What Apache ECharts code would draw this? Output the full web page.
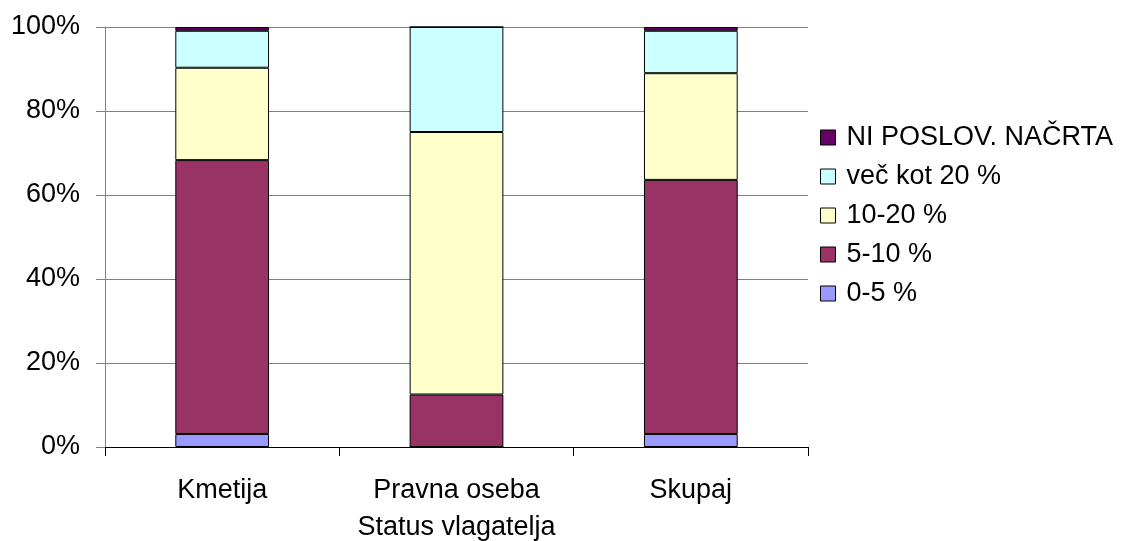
<!DOCTYPE html>
<html>
<head>
<meta charset="utf-8">
<script src="https://cdn.jsdelivr.net/npm/echarts@6/dist/echarts.min.js"></script>
<style>html,body{margin:0;padding:0;background:#fff}#c{width:1125px;height:541px}</style>
</head>
<body>
<div id="c"></div>
<script>
const categories = ['Kmetija', 'Pravna oseba', 'Skupaj'];
const yTicks = ['0%', '20%', '40%', '60%', '80%', '100%'];
const s0_5 = [3.1, 0, 3.1];
const s5_10 = [65.2, 12.5, 60.5];
const s10_20 = [22.0, 62.5, 25.4];
const sOver20 = [8.8, 25.0, 10.1];
const sNoPlan = [0.9, 0, 0.9];
const seriesNames = ['0-5 %', '5-10 %', '10-20 %', 'več kot 20 %', 'NI POSLOV. NAČRTA'];
const seriesData = [s0_5, s5_10, s10_20, sOver20, sNoPlan];
const colors = ['#9999FF', '#993366', '#FFFFCC', '#CCFFFF', '#660066'];

const chart = echarts.init(document.getElementById('c'));
const font = 'Arial, "Liberation Sans", sans-serif';
chart.setOption({
  animation: false,
  textStyle: { fontFamily: font },
  grid: { left: 105, top: 27, right: 317, bottom: 94, containLabel: false, outerBoundsMode: 'none' },
  legend: {
    orient: 'vertical',
    left: 815,
    top: 119,
    icon: 'rect',
    itemWidth: 15,
    itemHeight: 15,
    itemGap: 12,
    data: seriesNames.slice().reverse(),
    textStyle: { fontSize: 27, color: '#000', fontFamily: font, padding: [0, 0, 0, 6] },
    itemStyle: { borderColor: '#000', borderWidth: 1 }
  },
  xAxis: {
    type: 'category',
    data: categories,
    name: 'Status vlagatelja',
    nameLocation: 'middle',
    nameGap: 67,
    nameTextStyle: { fontSize: 27, color: '#000', fontFamily: font },
    axisLine: { lineStyle: { color: '#000', width: 1 } },
    axisTick: { show: true, length: 9, lineStyle: { color: '#000' } },
    axisLabel: { fontSize: 27, color: '#000', margin: 30, fontFamily: font }
  },
  yAxis: {
    type: 'value',
    min: 0,
    max: 100,
    interval: 20,
    axisLine: { show: true, lineStyle: { color: '#808080', width: 1 } },
    axisTick: { show: true, length: 9, lineStyle: { color: '#808080' } },
    axisLabel: {
      fontSize: 27, color: '#000', margin: 25, fontFamily: font,
      formatter: v => yTicks[Math.round(v / 20)]
    },
    splitLine: { lineStyle: { color: '#808080', width: 1 } }
  },
  series: seriesNames.map((n, i) => ({
    name: n,
    type: 'bar',
    stack: 'all',
    barWidth: '40%',
    data: seriesData[i],
    itemStyle: { color: colors[i], borderColor: '#000', borderWidth: 1 }
  }))
});
</script>
</body>
</html>
